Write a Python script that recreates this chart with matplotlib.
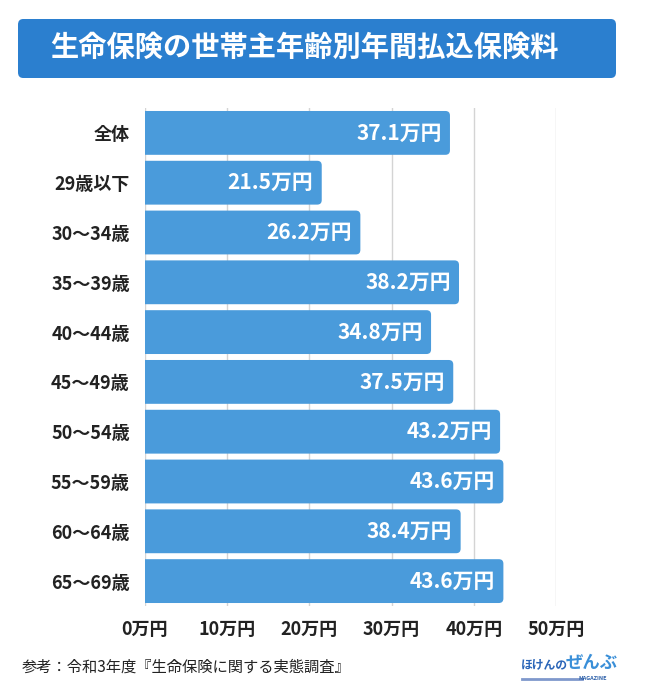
import matplotlib.pyplot as plt
from matplotlib.patches import FancyBboxPatch

plt.rcParams['font.family'] = ['Noto Sans CJK JP', 'DejaVu Sans']

categories = ["全体", "29歳以下", "30～34歳", "35～39歳", "40～44歳",
              "45～49歳", "50～54歳", "55～59歳", "60～64歳", "65～69歳"]
values = [37.1, 21.5, 26.2, 38.2, 34.8, 37.5, 43.2, 43.6, 38.4, 43.6]
xticks = [0, 10, 20, 30, 40, 50]
xticklabels = ["0万円", "10万円", "20万円", "30万円", "40万円", "50万円"]

title = "生命保険の世帯主年齢別年間払込保険料"
source = "参考：令和3年度『生命保険に関する実態調査』"

bar_color = "#4a9bdb"
title_color = "#2b7fcf"

fig = plt.figure(figsize=(6.45, 7.0), dpi=100)

# title box
fig.patches.append(FancyBboxPatch((18 / 645, 1 - 78 / 700), 598 / 645, 59 / 700,
                                  boxstyle="round,pad=0,rounding_size=0.008",
                                  transform=fig.transFigure, facecolor=title_color,
                                  edgecolor="none"))
fig.text(50 / 645, 1 - 48 / 700, title, color="white", fontsize=20.3,
         fontweight="bold", va="center", ha="left")

ax = fig.add_axes([145 / 645, 1 - 606 / 700, 411 / 645, 498 / 700])
ax.set_xlim(0, 50)
ax.set_ylim(len(categories) - 0.5, -0.5)

# px per data unit, to keep rounded corners round
px_x = 411 / 50
px_y = 498 / len(categories)
h = 0.88
for i, v in enumerate(values):
    # start left of 0 so the left rounded corners get clipped by the axes
    ax.add_patch(FancyBboxPatch((-1, i - h / 2), v + 1, h,
                                boxstyle="round,pad=0,rounding_size=0.55",
                                mutation_aspect=px_x / px_y,
                                facecolor=bar_color, edgecolor="none", zorder=2))
    ax.text(v - 1.0, i, f"{v}万円", color="white", fontsize=15, fontweight="bold",
            ha="right", va="center", zorder=3)

ax.set_xticks(xticks)
ax.set_xticklabels(xticklabels, fontsize=13, fontweight="bold", color="#222222")
ax.set_yticks(range(len(categories)))
ax.set_yticklabels(categories, fontsize=13, fontweight="bold", color="#222222")
ax.tick_params(axis="x", length=0, pad=10)
ax.tick_params(axis="y", length=0, pad=11)
ax.grid(axis="x", color="#d4d4d4", linewidth=1, zorder=0)
ax.set_axisbelow(True)
for s in ax.spines.values():
    s.set_visible(False)

fig.text(22 / 645, 1 - 667 / 700, source, fontsize=11, color="#222222",
         va="center", ha="left")

# logo
fig.text(521 / 645, 1 - 665 / 700, "ほけんの", fontsize=8.5, fontweight="bold",
         color="#2a65b8", va="center", ha="left")
fig.text(566 / 645, 1 - 663 / 700, "ぜんぶ", fontsize=12.5, fontweight="bold",
         color="#3a8fd8", va="center", ha="left")
fig.text(607 / 645, 1 - 679 / 700, "MAGAZINE", fontsize=4, fontweight="bold",
         color="#2a5ea8", va="center", ha="right")
fig.lines.append(plt.Line2D([522 / 645, 582 / 645], [1 - 679 / 700] * 2,
                            transform=fig.transFigure, color="#7f98cc", lw=2))

fig.savefig("out.png", dpi=100)
